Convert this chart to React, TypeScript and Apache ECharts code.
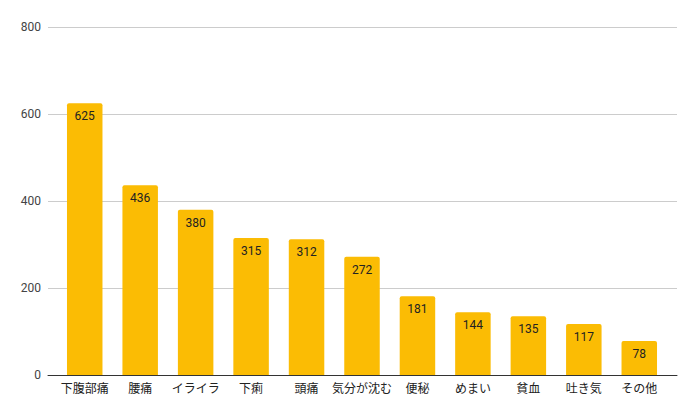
import React, { useEffect, useRef } from 'react';
import * as echarts from 'echarts';

const categories = ['下腹部痛', '腰痛', 'イライラ', '下痢', '頭痛', '気分が沈む', '便秘', 'めまい', '貧血', '吐き気', 'その他'];
const counts = [625, 436, 380, 315, 312, 272, 181, 144, 135, 117, 78];
const yTicks = [0, 200, 400, 600, 800];

const FONT = "Roboto, 'Noto Sans CJK JP', sans-serif";

const App: React.FC = () => {
  const chartRef = useRef<HTMLDivElement>(null);

  useEffect(() => {
    if (!chartRef.current) return;
    const chart = echarts.init(chartRef.current, null, { renderer: 'svg' });

    const yMax = yTicks[yTicks.length - 1];
    const yStep = yTicks[1] - yTicks[0];

    const option = {
      animation: false,
      textStyle: { fontFamily: FONT },
      grid: [
        // 棒グラフ用
        { left: 57, right: 30, top: 27, bottom: 42 },
        // 目盛り線用(少し広め)
        { left: 48, right: 20, top: 27, bottom: 42 }
      ],
      xAxis: [
        {
          type: 'category',
          gridIndex: 0,
          data: categories,
          axisLine: { show: false },
          axisTick: { show: false },
          axisLabel: { color: '#222222', fontSize: 12, margin: 8, interval: 0, fontFamily: FONT }
        },
        {
          type: 'category',
          gridIndex: 1,
          data: [''],
          axisLine: { show: true, lineStyle: { color: '#333333', width: 1 } },
          axisTick: { show: false },
          axisLabel: { show: false }
        }
      ],
      yAxis: [
        {
          type: 'value',
          gridIndex: 0,
          min: 0,
          max: yMax,
          interval: yStep,
          axisLine: { show: false },
          axisTick: { show: false },
          axisLabel: { show: false },
          splitLine: { show: false }
        },
        {
          type: 'value',
          gridIndex: 1,
          min: 0,
          max: yMax,
          interval: yStep,
          axisLine: { show: false },
          axisTick: { show: false },
          axisLabel: { color: '#444444', fontSize: 12, margin: 7, fontFamily: FONT },
          splitLine: { show: true, lineStyle: { color: '#cccccc', width: 1 } }
        }
      ],
      series: [
        {
          type: 'bar',
          xAxisIndex: 0,
          yAxisIndex: 0,
          data: counts,
          barWidth: '64%',
          itemStyle: { color: '#fbbc04', borderRadius: [2, 2, 0, 0] },
          label: {
            show: true,
            position: 'insideTop',
            distance: 7,
            color: '#222222',
            fontSize: 12,
            fontFamily: FONT
          },
          z: 3
        }
      ]
    };

    chart.setOption(option);

    return () => {
      chart.dispose();
    };
  }, []);

  return (
    <div style={{ position: 'fixed', left: 0, top: 0, width: 697, height: 417, background: '#ffffff' }}>
      <div ref={chartRef} style={{ width: '100%', height: '100%' }} />
    </div>
  );
};

export default App;
